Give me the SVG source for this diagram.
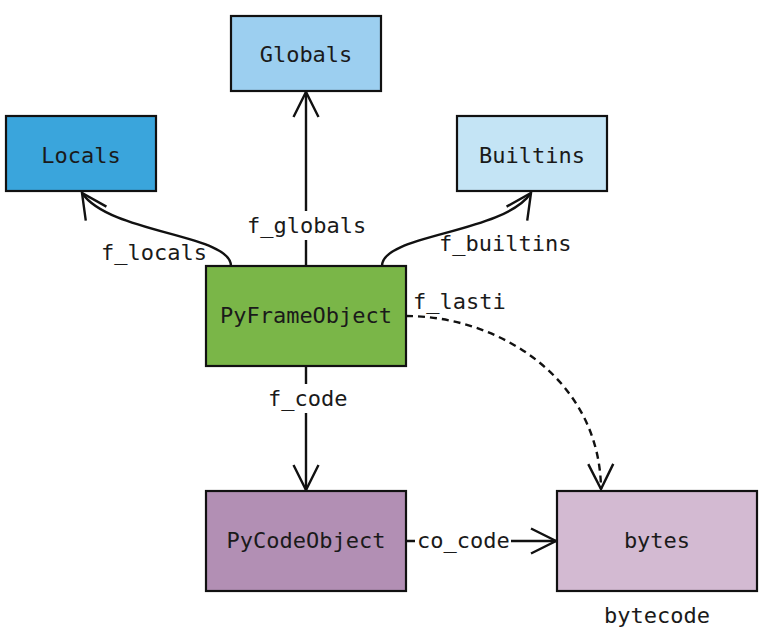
<svg xmlns="http://www.w3.org/2000/svg" width="779" height="633" viewBox="0 0 779 633">
<style>
.box{stroke:#111;stroke-width:2.2}
.t{font-family:"DejaVu Sans Mono",monospace;font-size:22px;fill:#1a1a1a;text-anchor:middle}
.lbl{font-family:"DejaVu Sans Mono",monospace;font-size:22px;fill:#1a1a1a}
.c{fill:none;stroke:#111;stroke-width:2.4}
.bg{fill:#fff}
</style>
<defs>
<marker id="ah" markerUnits="userSpaceOnUse" viewBox="-28 -15 32 30" markerWidth="32" markerHeight="30" refX="0" refY="0" orient="auto">
<path d="M-25,-12.5 L0,0 L-25,12.5" fill="none" stroke="#111" stroke-width="2.4"/>
</marker>
</defs>
<rect width="779" height="633" fill="#fff"/>
<g id="connectors">
<path class="c" d="M306,266 L306,92" marker-end="url(#ah)"/>
<rect class="bg" x="245" y="211" width="124" height="29"/>
<text class="lbl" x="247" y="233">f_globals</text>
<path class="c" d="M231,266 C231,234 110,234 82,193" marker-end="url(#ah)"/>
<text class="lbl" x="101" y="260">f_locals</text>
<path class="c" d="M382,266 C382,234 503,234 531,193" marker-end="url(#ah)"/>
<text class="lbl" x="439" y="251">f_builtins</text>
<path class="c" d="M406,316 C500,316 600,380 601,489" stroke-dasharray="7,5" marker-end="url(#ah)"/>
<text class="lbl" x="413" y="309">f_lasti</text>
<path class="c" d="M306,366 L306,490" marker-end="url(#ah)"/>
<rect class="bg" x="264" y="384" width="86" height="29"/>
<text class="lbl" x="268" y="406">f_code</text>
<path class="c" d="M406,541 L556,541" marker-end="url(#ah)"/>
<rect class="bg" x="415" y="527" width="96" height="27"/>
<text class="lbl" x="417" y="548">co_code</text>
</g>
<g id="globals"><rect class="box" x="231" y="16" width="150" height="75" fill="#9ccff0"/><text class="t" x="306" y="62">Globals</text></g>
<g id="locals"><rect class="box" x="6" y="116" width="150" height="75" fill="#3aa5dc"/><text class="t" x="81" y="163">Locals</text></g>
<g id="builtins"><rect class="box" x="457" y="116" width="150" height="75" fill="#c4e4f5"/><text class="t" x="532" y="163">Builtins</text></g>
<g id="pyframeobject"><rect class="box" x="206" y="266" width="200" height="100" fill="#7ab648"/><text class="t" x="306" y="323">PyFrameObject</text></g>
<g id="pycodeobject"><rect class="box" x="206" y="491" width="200" height="100" fill="#b28fb4"/><text class="t" x="306" y="548">PyCodeObject</text></g>
<g id="bytes"><rect class="box" x="557" y="491" width="200" height="100" fill="#d3bad2"/><text class="t" x="657" y="548">bytes</text></g>
<g id="bytecode-label"><text class="t" x="657" y="623">bytecode</text></g>
</svg>
